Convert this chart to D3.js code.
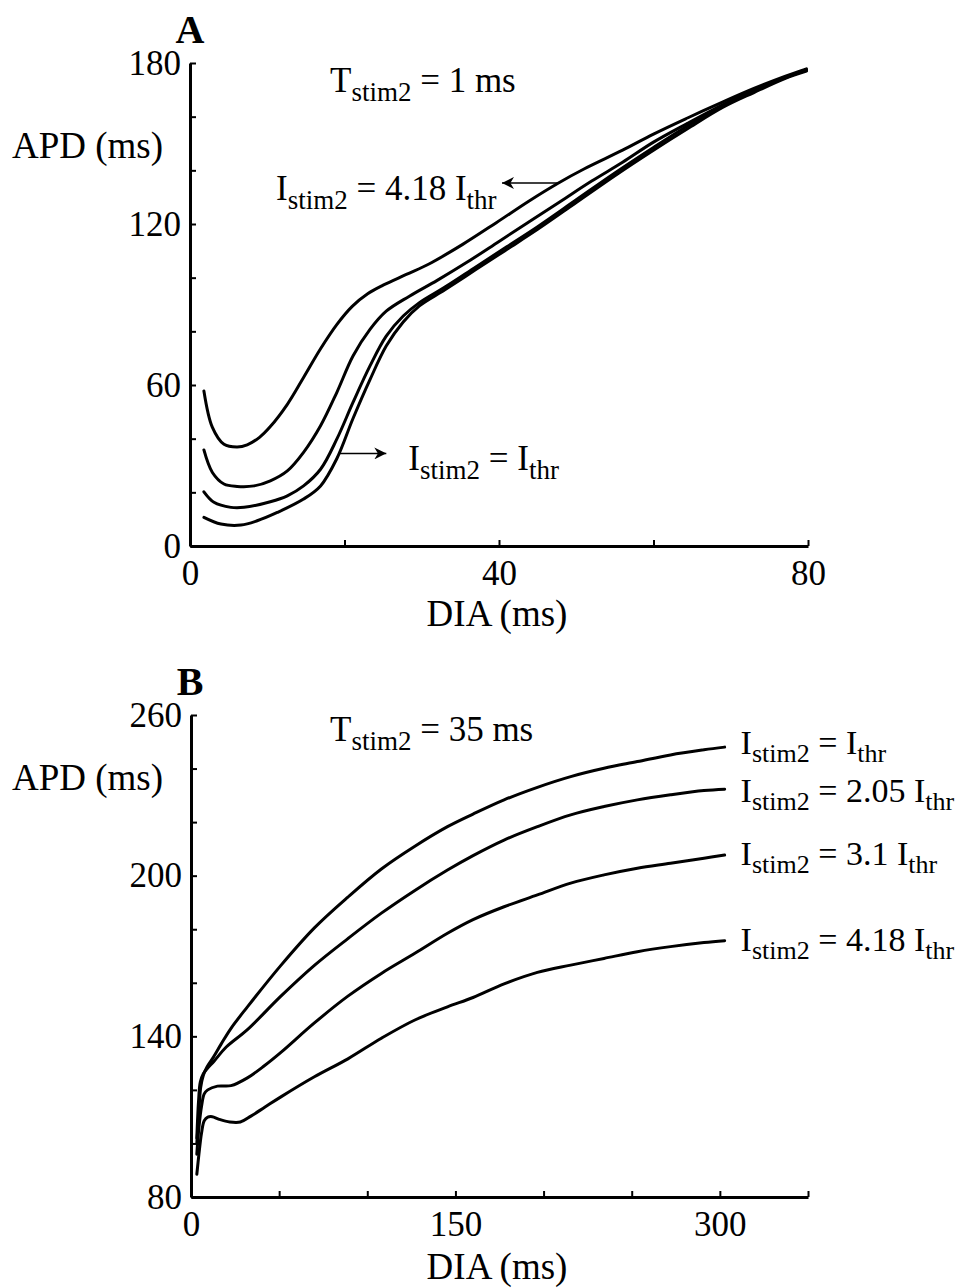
<!DOCTYPE html>
<html>
<head>
<meta charset="utf-8">
<script src="https://cdn.jsdelivr.net/npm/d3@7"></script>
<style>
  html, body { margin: 0; padding: 0; background: #fff; }
  svg { display: block; }
  text { font-family: "Liberation Serif", "Times New Roman", serif; fill: #000; }
</style>
</head>
<body>
<script>
// ---- Panel A: T_stim2 = 1 ms, restitution curves (DIA, APD) ----
const aXTicks = [0, 20, 40, 60, 80];
const aXLabels = [0, 40, 80];
const aYTicks = [0, 20, 40, 60, 80, 100, 120, 140, 160, 180];
const aYLabels = [0, 60, 120, 180];

const curveA_418 = [[1.8,57.8],[2.9,44.2],[4.4,37.9],[6.1,36.9],[7.4,37.7],[9,40.5],[10.4,44.5],[12.6,52.8],[14.7,62.8],[16.9,73.5],[19,82.5],[21,89.3],[23,94],[25,97.2],[28,101.2],[31,105.2],[35.3,112.4],[39.6,120.4],[43.9,128.6],[47.7,135.3],[51,140.5],[56,147.5],[60,153.5],[64.4,159.5],[69,165.5],[73,170.5],[77,175],[79.8,177.8]];
const curveA_310 = [[1.8,35.8],[2.9,27.4],[4.4,23.1],[6.1,22.2],[8.3,22.4],[10.4,24.3],[12.6,28],[14.7,34.9],[16.9,44.8],[19,57.2],[21.1,70.8],[23.3,80.7],[25.4,87.5],[28.4,93.1],[32,99],[36,106],[40,113.5],[44,121],[48,128.5],[52,136],[56,143],[60,150.5],[64.4,157.5],[69,164.5],[73,170],[77,174.5],[79.8,177.5]];
const curveA_205 = [[1.8,20.2],[3.1,16.3],[5.3,14.4],[7,14.4],[10.4,16.5],[12.6,18.7],[14.7,22.4],[16.9,28.6],[19,39.8],[21.1,53.5],[23.3,67.1],[25.4,78.2],[27.6,85.7],[29.7,90.7],[33,96.5],[37,104],[41,111.5],[45,119],[50,129],[55,139],[60,148.5],[64.4,156.5],[69,164],[73,169.5],[77,174.5],[79.8,177.3]];
const curveA_100 = [[1.8,10.7],[4,8.2],[6.6,7.8],[8.7,9.4],[11.3,12.5],[14.7,17.5],[16.9,22.4],[19,32.5],[21.1,47.5],[23.3,62],[25.4,74.5],[27.6,83.5],[29.7,89.5],[33,95.5],[37,103],[41,110.5],[45,118],[50,128],[55,138],[60,147.5],[64.4,155.5],[69,163.5],[73,169],[77,174.2],[79.8,177]];

// points where the label arrows touch their curves
const arrowA_418 = [47.7, 135.3];
const arrowA_100 = [19.2, 34.5];

// ---- Panel B: T_stim2 = 35 ms ----
const bXTicks = [0, 50, 100, 150, 200, 250, 300, 350];
const bXLabels = [0, 150, 300];
const bYTicks = [80, 100, 120, 140, 160, 180, 200, 220, 240, 260];
const bYLabels = [80, 140, 200, 260];

const curveB_100 = [[3.3,100],[4.5,112],[5.5,121],[7,125.5],[9,128.5],[12,131.5],[17,137],[22.7,143],[32,151],[51,166.5],[70,180.5],[89,192],[108,202.5],[127,211],[145.5,218.3],[160,223],[177.6,228.3],[196.5,233],[215.4,237],[234.3,240.1],[253.2,242.6],[272,245.1],[291,247],[302.7,248]];
const curveB_205 = [[3.3,102],[4.3,116],[5.3,123],[7,126],[9,127.8],[13.2,130.8],[20,136],[32,142.5],[51,155],[70,166.5],[89,176.5],[108,186],[127,194.5],[145.5,202.1],[160,207.5],[177.6,213.3],[196.5,218.3],[215.4,222.7],[234.3,225.8],[253.2,228.3],[272,230.2],[291,231.8],[302.7,232.3]];
const curveB_310 = [[3.3,96],[4.5,106],[6,114],[7.5,118.5],[9.5,120],[15,121.4],[22.7,121.6],[32,124.5],[41.6,129],[51,134],[70,145],[89,155],[108,163.5],[127,171],[145.5,178.5],[160,183.6],[177.6,188.4],[196.5,192.8],[215.4,197.2],[234.3,200.3],[253.2,202.8],[272,204.6],[291,206.5],[302.7,207.7]];
const curveB_418 = [[3.3,88.5],[4.5,96],[6,104],[7.5,108.5],[9.5,109.8],[12,110],[16,109],[22,108],[28,108],[34,110.2],[42,113.6],[51,117.4],[70,124.9],[89,131.6],[108,139.3],[127,146.1],[145.5,151],[160,154.5],[177.6,159.6],[196.5,163.9],[215.4,166.6],[234.3,169.1],[253.2,171.6],[272,173.5],[291,175],[302.7,175.7]];

const curveLabelsB = [
  { mult: "", curve: curveB_100, shift: -3 },
  { mult: "2.05 ", curve: curveB_205, shift: 3 },
  { mult: "3.1 ", curve: curveB_310, shift: 0 },
  { mult: "4.18 ", curve: curveB_418, shift: 0 }
];

const W = 963, H = 1288;
const FS = 35, SUB = 27;

const svg = d3.select("body").append("svg")
  .attr("width", W).attr("height", H)
  .attr("viewBox", `0 0 ${W} ${H}`);

// scales
const xA = d3.scaleLinear().domain([0, 80]).range([190, 808]);
const yA = d3.scaleLinear().domain([0, 180]).range([546, 63]);
const xB = d3.scaleLinear().domain([0, 350]).range([191, 808]);
const yB = d3.scaleLinear().domain([80, 260]).range([1197, 715]);

function drawAxes(x, y, xt, xl, yt, yl) {
  const gx = svg.append("g")
    .attr("transform", `translate(0,${y.range()[0]})`)
    .call(d3.axisBottom(x).tickValues(xt).tickSize(-6).tickSizeOuter(0).tickPadding(14)
      .tickFormat(d => xl.includes(d) ? d : ""));
  const gy = svg.append("g")
    .attr("transform", `translate(${x.range()[0]},0)`)
    .call(d3.axisLeft(y).tickValues(yt).tickSize(-6).tickSizeOuter(0).tickPadding(9)
      .tickFormat(d => yl.includes(d) ? d : ""));
  [gx, gy].forEach(g => {
    g.select(".domain").attr("stroke", "#000").attr("stroke-width", 3);
    g.selectAll(".tick line").attr("stroke", "#000").attr("stroke-width", 2);
    g.selectAll(".tick text")
      .attr("font-family", "Liberation Serif, serif")
      .attr("font-size", FS).attr("fill", "#000");
  });
  gx.selectAll(".tick text").attr("dy", "0.71em");
}

drawAxes(xA, yA, aXTicks, aXLabels, aYTicks, aYLabels);
drawAxes(xB, yB, bXTicks, bXLabels, bYTicks, bYLabels);

function drawCurve(data, x, y) {
  const line = d3.line().x(d => x(d[0])).y(d => y(d[1])).curve(d3.curveCatmullRom.alpha(0.5));
  svg.append("path").datum(data)
    .attr("d", line)
    .attr("fill", "none").attr("stroke", "#000")
    .attr("stroke-width", 3).attr("stroke-linejoin", "round").attr("stroke-linecap", "round");
}

[curveA_418, curveA_310, curveA_205, curveA_100].forEach(c => drawCurve(c, xA, yA));
[curveB_100, curveB_205, curveB_310, curveB_418].forEach(c => drawCurve(c, xB, yB));

// text with a subscript part: parts = [[text, isSub], ...]
function subText(x, y, parts, size, subSize, drop) {
  size = size || FS; subSize = subSize || SUB; drop = drop || 9;
  const t = svg.append("text").attr("x", x).attr("y", y).attr("font-size", size);
  let sub = false;
  parts.forEach(([s, isSub]) => {
    const ts = t.append("tspan").text(s);
    if (isSub && !sub) { ts.attr("dy", drop).attr("font-size", subSize); sub = true; }
    else if (isSub) { ts.attr("font-size", subSize); }
    else if (!isSub && sub) { ts.attr("dy", -drop); sub = false; }
  });
  return t;
}

// panel letters
svg.append("text").attr("x", 190).attr("y", 43).attr("text-anchor", "middle")
  .attr("font-size", 40).attr("font-weight", "bold").text("A");
svg.append("text").attr("x", 190).attr("y", 695).attr("text-anchor", "middle")
  .attr("font-size", 40).attr("font-weight", "bold").text("B");

// axis titles
svg.append("text").attr("x", 12).attr("y", 158).attr("font-size", 37).text("APD (ms)");
svg.append("text").attr("x", 12).attr("y", 790).attr("font-size", 37).text("APD (ms)");
svg.append("text").attr("x", 497).attr("y", 626).attr("text-anchor", "middle").attr("font-size", 37).text("DIA (ms)");
svg.append("text").attr("x", 497).attr("y", 1279).attr("text-anchor", "middle").attr("font-size", 37).text("DIA (ms)");

// stimulus duration annotations
subText(330, 92, [["T", false], ["stim2", true], [" = 1 ms", false]]);
subText(330, 741, [["T", false], ["stim2", true], [" = 35 ms", false]]);

// panel A curve labels with arrows
svg.append("defs").append("marker")
  .attr("id", "ah").attr("viewBox", "0 0 10 10").attr("refX", 10).attr("refY", 5)
  .attr("markerWidth", 12).attr("markerHeight", 12).attr("markerUnits", "userSpaceOnUse")
  .attr("orient", "auto")
  .append("path").attr("d", "M0,0 L10,5 L0,10 L3,5 Z").attr("fill", "#000");

const a1x = xA(arrowA_418[0]), a1y = yA(arrowA_418[1]);
svg.append("line").attr("x1", a1x).attr("y1", a1y).attr("x2", 502).attr("y2", a1y)
  .attr("stroke", "#000").attr("stroke-width", 1.5).attr("marker-end", "url(#ah)");
subText(276, a1y + 17, [["I", false], ["stim2", true], [" = 4.18 I", false], ["thr", true]]);

const a2x = xA(arrowA_100[0]), a2y = yA(arrowA_100[1]);
svg.append("line").attr("x1", a2x).attr("y1", a2y).attr("x2", a2x + 48).attr("y2", a2y)
  .attr("stroke", "#000").attr("stroke-width", 1.5).attr("marker-end", "url(#ah)");
subText(a2x + 70, a2y + 17, [["I", false], ["stim2", true], [" = I", false], ["thr", true]]);

// panel B labels at curve ends
curveLabelsB.forEach(l => {
  const last = l.curve[l.curve.length - 1];
  subText(xB(last[0]) + 16, yB(last[1]) + 10 + l.shift,
    [["I", false], ["stim2", true], [" = " + l.mult + "I", false], ["thr", true]], 34, 26, 8);
});
</script>
</body>
</html>
